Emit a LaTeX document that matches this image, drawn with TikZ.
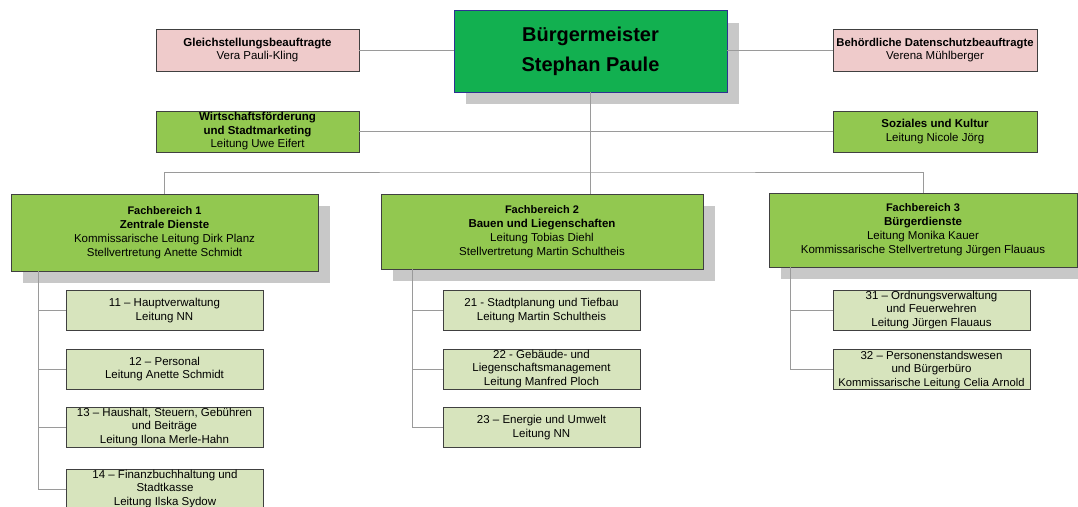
\documentclass[tikz,border=0pt]{standalone}
\usepackage{fontspec}
\setmainfont{Liberation Sans}
\begin{document}
\begin{tikzpicture}[x=1pt,y=-1pt,
  box/.style={draw=boxline,line width=0.9pt,inner xsep=0.5pt,inner ysep=1pt,align=center,font=\fontsize{11.5}{13.5}\selectfont},
  pinkbox/.style={box,fill=pinkfill,minimum width=203pt,minimum height=42pt},
  greenbox/.style={box,fill=fbfill,minimum width=203pt,minimum height=41pt},
  fbbox/.style={box,fill=fbfill,font=\fontsize{11.5}{14}\selectfont},
  subbox/.style={box,fill=subfill,minimum width=197pt,minimum height=40pt},
  shadowbox/.style={fill=shadowgray,draw=none},
  conn/.style={draw=conngray,line width=0.9pt}]
\definecolor{boxline}{HTML}{404040}
\definecolor{pinkfill}{HTML}{EFCBCB}
\definecolor{fbfill}{HTML}{92C850}
\definecolor{subfill}{HTML}{D7E4BD}
\definecolor{bmfill}{HTML}{12B050}
\definecolor{bmline}{HTML}{2E3192}
\definecolor{shadowgray}{HTML}{C8C8C8}
\definecolor{conngray}{HTML}{9A9A9A}
\useasboundingbox (0,0) rectangle (1078,506);
\fill[white] (0,0) rectangle (1078,506);
% shadows
\fill[shadowbox] (466,23) rectangle (739,104);
\fill[shadowbox] (23,206) rectangle (330,283);
\fill[shadowbox] (393,206) rectangle (715,281);
\fill[shadowbox] (781,205) rectangle (1089,279);
% top nodes
\node[box,fill=bmfill,draw=bmline,minimum width=273pt,minimum height=82pt,font=\bfseries\fontsize{20}{30}\selectfont] (bm) at (590.5,51) {Bürgermeister\\Stephan Paule};
\node[pinkbox] (gl) at (257.5,50) {\textbf{Gleichstellungsbeauftragte}\\Vera Pauli-Kling};
\node[pinkbox,minimum width=204pt] (ds) at (935,50) {\textbf{\fontsize{11.3}{13.5}\selectfont Behördliche Datenschutzbeauftragte}\\Verena Mühlberger};
\node[greenbox] (wf) at (257.5,131.5) {\textbf{Wirtschaftsförderung}\\\textbf{und Stadtmarketing}\\Leitung Uwe Eifert};
\node[greenbox,minimum width=204pt] (sk) at (935,131.5) {\textbf{Soziales und Kultur}\\Leitung Nicole Jörg};
% Fachbereiche
\node[fbbox,minimum width=307pt,minimum height=77pt] (fb1) at (164.5,232.5) {\textbf{\fontsize{11}{14}\selectfont Fachbereich 1}\\\textbf{Zentrale Dienste}\\Kommissarische Leitung Dirk Planz\\Stellvertretung Anette Schmidt};
\node[fbbox,minimum width=322pt,minimum height=75pt] (fb2) at (542,231.5) {\textbf{\fontsize{11}{14}\selectfont Fachbereich 2}\\\textbf{Bauen und Liegenschaften}\\Leitung Tobias Diehl\\Stellvertretung Martin Schultheis};
\node[fbbox,minimum width=308pt,minimum height=74pt] (fb3) at (923,230) {\textbf{\fontsize{11}{14}\selectfont Fachbereich 3}\\\textbf{Bürgerdienste}\\Leitung Monika Kauer\\Kommissarische Stellvertretung Jürgen Flauaus};
% sub boxes
\node[subbox] (s11) at (164.5,310.5) {11 – Hauptverwaltung\\Leitung NN};
\node[subbox] (s12) at (164.5,369) {12 – Personal\\Leitung Anette Schmidt};
\node[subbox] (s13) at (164.5,427) {13 – Haushalt, Steuern, Gebühren\\und Beiträge\\Leitung Ilona Merle-Hahn};
\node[subbox] (s14) at (165,489) {14 – Finanzbuchhaltung und\\Stadtkasse\\Leitung Ilska Sydow};
\node[subbox] (s21) at (541.5,310.5) {21 - Stadtplanung und Tiefbau\\Leitung Martin Schultheis};
\node[subbox] (s22) at (541.5,369) {22 - Gebäude- und\\Liegenschaftsmanagement\\Leitung Manfred Ploch};
\node[subbox] (s23) at (541.5,427.5) {23 – Energie und Umwelt\\Leitung NN};
\node[subbox] (s31) at (931.5,310) {31 – Ordnungsverwaltung\\und Feuerwehren\\Leitung Jürgen Flauaus};
\node[subbox] (s32) at (931.5,369.5) {32 – Personenstandswesen\\und Bürgerbüro\\\fontsize{11.2}{13.5}\selectfont Kommissarische Leitung Celia Arnold};
% connectors
\coordinate (bus) at (590.5,172);
\coordinate (t1) at (38.5,271);
\coordinate (t2) at (412,269);
\coordinate (t3) at (790,267);
\draw[conn] (gl.east) -- (gl.east -| bm.west);
\draw[conn] (bm.east |- ds.west) -- (ds.west);
\draw[conn] (wf.east) -- (sk.west);
\draw[conn] (bm.south) -- (bus) -- (bus |- fb2.north);
\draw[conn] (fb1.north) |- (bus) -| (fb3.north);
\draw[conn] (t1) |- (s14.west);
\foreach \s in {s11,s12,s13} \draw[conn] (\s.west) -- (\s.west -| t1);
\draw[conn] (t2) |- (s23.west);
\foreach \s in {s21,s22} \draw[conn] (\s.west) -- (\s.west -| t2);
\draw[conn] (t3) |- (s32.west);
\draw[conn] (s31.west) -- (s31.west -| t3);
\end{tikzpicture}
\end{document}
